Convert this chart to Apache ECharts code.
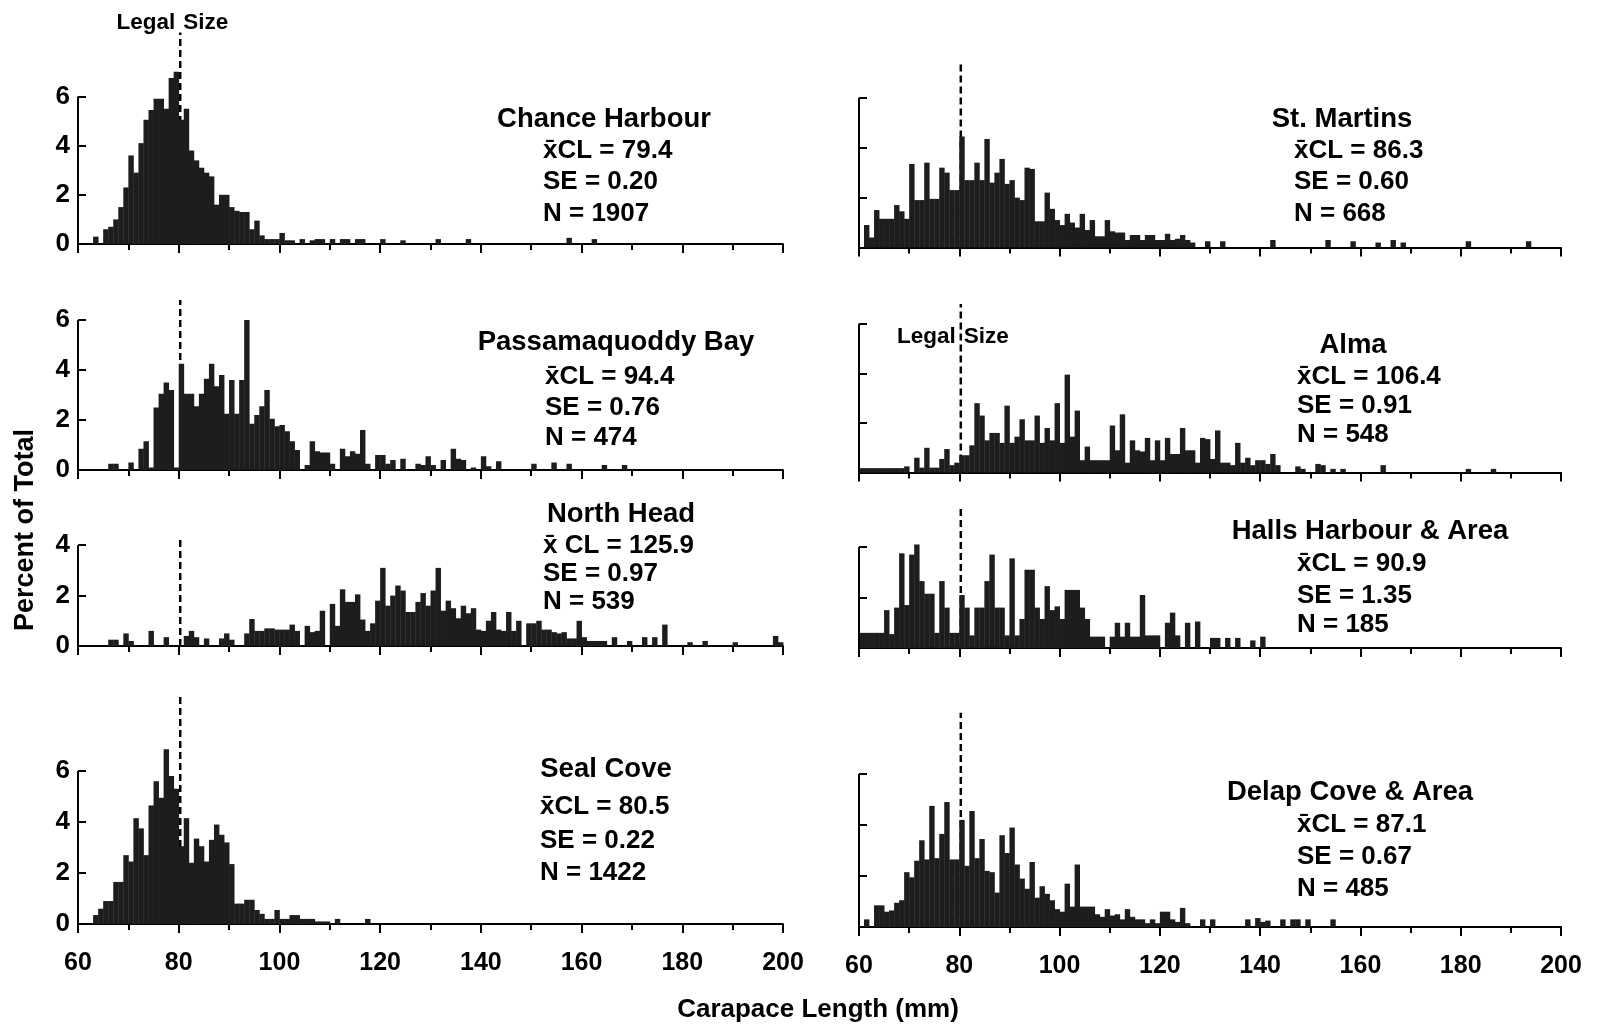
<!DOCTYPE html>
<html>
<head>
<meta charset="utf-8">
<script src="https://cdn.jsdelivr.net/npm/echarts@6/dist/echarts.min.js"></script>
<style>
  html, body { margin: 0; padding: 0; background: #fff; }
  #chart { width: 1597px; height: 1025px; }
</style>
</head>
<body>
<div id="chart"></div>
<script>
// --- data: percent of total per 1 mm carapace-length class ---
const chanceHarbour = [
  [63,0.3],[65,0.6],[66,0.7],[67,1.0],[68,1.5],[69,2.3],[70,3.6],[71,2.9],[72,4.1],[73,5.05],
  [74,5.45],[75,5.9],[76,5.9],[77,5.5],[78,6.75],[79,7.0],[80,5.05],[81,5.5],[82,3.8],[83,3.4],
  [84,3.1],[85,2.9],[86,2.75],[87,1.6],[88,2.0],[89,2.0],[90,1.5],[91,1.35],[92,1.3],[93,1.3],
  [94,0.6],[95,0.95],[96,0.35],[97,0.2],[98,0.2],[99,0.2],[100,0.45],[101,0.15],[102,0.15],
  [104,0.2],[106,0.15],[107,0.2],[108,0.2],[110,0.2],[112,0.2],[113,0.2],[115,0.2],[116,0.2],
  [120,0.2],[124,0.15],[131,0.2],[137,0.2],[157,0.25],[162,0.2]
]
const passamaquoddyBay = [
  [66,0.25],[67,0.25],[70,0.3],[72,0.85],[73,1.15],[74,0.1],[75,2.5],[76,3.05],[77,3.5],[78,3.2],
  [79,0.1],[80,4.25],[81,3.05],[82,3.05],[83,2.55],[84,3.05],[85,3.65],[86,4.25],[87,3.35],[88,3.8],
  [89,2.25],[90,3.6],[91,2.25],[92,3.6],[93,6.0],[94,1.85],[95,2.2],[96,2.55],[97,3.2],[98,2.05],
  [99,1.75],[100,1.8],[101,1.55],[102,1.15],[103,0.8],[105,0.2],[106,1.15],[107,0.75],[108,0.7],
  [109,0.7],[110,0.25],[112,0.85],[113,0.55],[114,0.75],[115,0.65],[116,1.6],[117,0.25],[119,0.6],
  [120,0.6],[121,0.25],[122,0.4],[124,0.45],[127,0.25],[128,0.2],[129,0.55],[130,0.2],[132,0.4],
  [134,0.85],[135,0.45],[136,0.4],[138,0.1],[140,0.55],[141,0.15],[143,0.35],[150,0.25],[154,0.3],
  [157,0.25],[164,0.2],[168,0.2]
]
const northHead = [
  [66,0.25],[67,0.25],[69,0.5],[70,0.2],[74,0.6],[77,0.35],[81,0.4],[82,0.6],[83,0.35],[85,0.3],
  [88,0.3],[89,0.5],[90,0.25],[93,0.5],[94,1.07],[95,0.6],[96,0.6],[97,0.7],[98,0.7],[99,0.65],
  [100,0.65],[101,0.65],[102,0.85],[103,0.6],[105,0.8],[106,0.55],[107,0.6],[108,1.4],[110,1.67],
  [111,0.8],[112,2.25],[113,1.75],[114,1.75],[115,2.05],[116,1.05],[117,0.6],[118,0.9],[119,1.8],
  [120,3.1],[121,1.6],[122,2.0],[123,2.4],[124,2.2],[125,1.35],[126,1.35],[127,1.75],[128,2.1],
  [129,1.6],[130,2.2],[131,3.1],[132,1.4],[133,1.8],[134,1.5],[135,1.1],[136,1.6],[137,1.3],
  [138,1.5],[139,0.65],[140,0.6],[141,1.0],[142,1.35],[143,0.65],[144,0.6],[145,1.35],[146,0.6],
  [147,1.0],[149,0.9],[150,0.9],[151,1.0],[152,0.65],[153,0.65],[154,0.55],[155,0.5],[156,0.55],
  [157,0.3],[158,0.3],[159,1.0],[160,0.35],[161,0.2],[162,0.2],[163,0.2],[164,0.2],[166,0.35],
  [169,0.2],[172,0.35],[174,0.35],[176,0.85],[181,0.15],[184,0.2],[190,0.15],[198,0.4],[199,0.15]
]
const sealCove = [
  [63,0.35],[64,0.6],[65,0.9],[66,0.9],[67,1.65],[68,1.65],[69,2.7],[70,2.45],[71,4.15],[72,3.75],
  [73,2.7],[74,4.65],[75,5.6],[76,4.95],[77,6.85],[78,5.8],[79,5.3],[80,3.05],[81,4.15],[82,2.4],
  [83,3.35],[84,3.05],[85,2.45],[86,3.3],[87,3.9],[88,3.5],[89,3.2],[90,2.35],[91,0.8],[92,0.8],
  [93,0.95],[94,0.95],[95,0.55],[96,0.4],[97,0.2],[98,0.2],[99,0.55],[100,0.2],[101,0.2],
  [102,0.35],[103,0.35],[104,0.2],[105,0.2],[106,0.2],[107,0.1],[108,0.1],[109,0.1],[111,0.2],
  [117,0.2]
]
const stMartins = [
  [61,0.9],[62,0.4],[63,1.5],[64,1.15],[65,1.15],[66,1.15],[67,1.7],[68,1.45],[69,1.15],[70,3.35],
  [71,1.9],[72,1.9],[73,3.4],[74,1.95],[75,1.95],[76,3.2],[77,3.0],[78,2.3],[79,2.3],[80,4.45],
  [81,2.7],[82,2.7],[83,3.4],[84,2.7],[85,4.35],[86,2.6],[87,3.0],[88,3.55],[89,2.55],[90,2.7],
  [91,2.0],[92,1.9],[93,3.2],[94,3.15],[95,1.05],[96,1.05],[97,2.2],[98,1.55],[99,1.1],[100,0.9],
  [101,1.35],[102,1.0],[103,0.8],[104,1.35],[105,0.7],[106,1.1],[107,0.45],[108,0.45],[109,1.1],
  [110,0.65],[111,0.6],[112,0.6],[113,0.3],[114,0.5],[115,0.5],[116,0.3],[117,0.5],[118,0.5],
  [119,0.3],[120,0.3],[121,0.55],[122,0.3],[123,0.35],[124,0.5],[125,0.3],[126,0.2],[129,0.25],
  [132,0.25],[142,0.3],[153,0.3],[158,0.25],[163,0.2],[166,0.3],[168,0.2],[181,0.25],[193,0.25]
]
const alma = [
  [60,0.18],[61,0.18],[62,0.18],[63,0.18],[64,0.18],[65,0.18],[66,0.18],[67,0.18],[68,0.18],
  [69,0.25],[71,0.6],[72,0.2],[73,1.0],[74,0.2],[75,0.2],[76,0.55],[77,0.95],[78,0.3],[79,0.4],
  [80,0.7],[81,0.7],[82,1.1],[83,2.8],[84,2.3],[85,1.3],[86,1.6],[87,1.6],[88,1.2],[89,2.7],
  [90,1.2],[91,1.45],[92,2.15],[93,1.3],[94,1.3],[95,2.3],[96,1.2],[97,1.8],[98,1.3],[99,2.8],
  [100,1.2],[101,3.95],[102,1.45],[103,2.5],[104,0.5],[105,1.05],[106,0.5],[107,0.5],[108,0.5],
  [109,0.5],[110,1.9],[111,0.9],[112,2.35],[113,0.4],[114,1.3],[115,0.9],[116,0.85],[117,1.4],
  [118,0.5],[119,1.3],[120,0.5],[121,1.4],[122,0.75],[123,0.75],[124,1.8],[125,0.9],[126,0.9],
  [127,0.4],[128,1.4],[129,1.35],[130,0.55],[131,1.7],[132,0.4],[133,0.4],[134,0.3],[135,1.2],
  [136,0.4],[137,0.6],[138,0.3],[139,0.5],[140,0.5],[141,0.35],[142,0.75],[143,0.3],[147,0.25],
  [148,0.15],[151,0.35],[152,0.3],[154,0.15],[156,0.15],[164,0.3],[181,0.15],[186,0.15]
]
const hallsHarbour = [
  [60,0.6],[61,0.6],[62,0.6],[63,0.6],[64,0.6],[65,1.5],[66,0.55],[67,1.6],[68,3.75],[69,1.7],
  [70,3.7],[71,4.1],[72,2.65],[73,2.15],[74,2.15],[75,0.6],[76,2.65],[77,1.6],[78,0.6],[79,0.6],
  [80,2.1],[81,1.6],[82,0.5],[83,1.6],[84,1.6],[85,2.65],[86,3.7],[87,1.6],[88,1.6],[89,0.5],
  [90,3.55],[91,0.5],[92,1.15],[93,3.1],[94,3.1],[95,1.6],[96,1.15],[97,2.45],[98,1.5],[99,1.65],
  [100,1.15],[101,2.3],[102,2.3],[103,2.3],[104,1.6],[105,1.15],[106,0.45],[107,0.45],[108,0.45],
  [110,0.45],[111,1.0],[112,0.45],[113,1.0],[114,0.45],[115,0.45],[116,2.1],[117,0.5],[118,0.5],
  [119,0.5],[121,1.0],[122,1.4],[123,0.5],[125,1.0],[127,1.05],[130,0.4],[131,0.4],[133,0.4],
  [135,0.4],[138,0.3],[140,0.45]
]
const delapCove = [
  [61,0.3],[63,0.85],[64,0.85],[65,0.6],[66,0.65],[67,0.95],[68,1.05],[69,2.15],[70,1.95],[71,2.6],
  [72,3.4],[73,2.65],[74,4.75],[75,2.7],[76,3.65],[77,4.9],[78,2.65],[79,2.65],[80,4.2],[81,2.4],
  [82,4.55],[83,2.7],[84,3.45],[85,2.2],[86,2.15],[87,1.35],[88,3.6],[89,2.9],[90,3.9],[91,2.45],
  [92,1.9],[93,1.5],[94,2.55],[95,1.15],[96,1.6],[97,1.3],[98,1.05],[99,0.7],[100,0.6],[101,1.7],
  [102,0.8],[103,2.45],[104,0.8],[105,0.8],[106,0.8],[107,0.5],[108,0.4],[109,0.7],[110,0.45],
  [111,0.5],[112,0.3],[113,0.7],[114,0.4],[115,0.3],[116,0.3],[117,0.15],[118,0.3],[119,0.15],
  [120,0.6],[121,0.6],[122,0.3],[123,0.2],[124,0.75],[125,0.15],[128,0.3],[130,0.3],[137,0.3],
  [139,0.35],[140,0.2],[141,0.25],[144,0.3],[146,0.3],[147,0.3],[149,0.3],[154,0.3]
]

const histograms = [chanceHarbour, passamaquoddyBay, northHead, sealCove,
  stMartins, alma, hallsHarbour, delapCove]
const sites = ['Chance Harbour', 'Passamaquoddy Bay', 'North Head', 'Seal Cove',
  'St. Martins', 'Alma', 'Halls Harbour & Area', 'Delap Cove & Area']
const meanLabel = ['x\u0304CL', 'x\u0304CL', 'x\u0304 CL', 'x\u0304CL', 'x\u0304CL', 'x\u0304CL', 'x\u0304CL', 'x\u0304CL']
const meanCL = ['79.4', '94.4', '125.9', '80.5', '86.3', '106.4', '90.9', '87.1']
const stdErr = ['0.20', '0.76', '0.97', '0.22', '0.60', '0.91', '1.35', '0.67']
const sampleN = ['1907', '474', '539', '1422', '668', '548', '185', '485']
const yTicks6 = [0, 2, 4, 6]
const yTicks4 = [0, 2, 4]
const xTickLabels = [60, 80, 100, 120, 140, 160, 180, 200]
const legalSize = 80.3

// --- layout ---
const FONT = '"Liberation Sans", Arial, sans-serif'
// left px, width, zero line px, px per percent, axis max (top of dashed line), y ticks, y labels, x labels
const panels = [
  { left: 78, width: 705, zero: 244, unit: 24.6, max: 8.6, ticks: yTicks6, yLab: true, xLab: false },
  { left: 78, width: 705, zero: 470, unit: 25, max: 6.8, ticks: yTicks6, yLab: true, xLab: false },
  { left: 78, width: 705, zero: 646, unit: 25.2, max: 4.35, ticks: yTicks4, yLab: true, xLab: false },
  { left: 78, width: 705, zero: 924, unit: 25.5, max: 9.05, ticks: yTicks6, yLab: true, xLab: true },
  { left: 859, width: 702, zero: 247.5, unit: 24.95, max: 7.4, ticks: yTicks6, yLab: false, xLab: false },
  { left: 859, width: 702, zero: 472.6, unit: 24.8, max: 6.8, ticks: yTicks6, yLab: false, xLab: false },
  { left: 859, width: 702, zero: 648, unit: 25.25, max: 5.65, ticks: yTicks4, yLab: false, xLab: false },
  { left: 859, width: 702, zero: 927, unit: 25.5, max: 8.4, ticks: yTicks6, yLab: false, xLab: true }
]
// title x, title y, stats x, stats y (3 lines)
const textPos = [
  [604, 119, 543, [151, 182, 214]],
  [616, 342, 545, [377, 408, 438]],
  [621, 514, 543, [546, 574, 602]],
  [606, 769, 540, [807, 841, 873]],
  [1342, 119, 1294, [151, 182, 214]],
  [1353, 345, 1297, [377, 406, 435]],
  [1370, 531, 1297, [564, 596, 625]],
  [1350, 792, 1297, [825, 857, 889]]
]

const chart = echarts.init(document.getElementById('chart'))

const grid = [], xAxis = [], yAxis = [], series = []

panels.forEach((p, i) => {
  const h = p.max * p.unit
  grid.push({ left: p.left, width: p.width, top: p.zero - h, height: h })

  xAxis.push({
    type: 'value', gridIndex: i, min: 60, max: 200, interval: 20,
    axisLine: { lineStyle: { color: '#000', width: 2 } },
    axisTick: { length: 9, lineStyle: { color: '#000', width: 2 } },
    minorTick: { show: true, splitNumber: 2, length: 6, lineStyle: { color: '#000', width: 2 } },
    splitLine: { show: false },
    axisLabel: {
      show: p.xLab, customValues: xTickLabels, margin: 27,
      color: '#000', fontSize: 25, fontFamily: FONT, fontWeight: 'bold'
    }
  })

  yAxis.push({
    type: 'value', gridIndex: i, min: 0, max: p.max,
    axisLine: { show: false },
    splitLine: { show: false },
    axisTick: { show: true, inside: true, length: 8, customValues: p.ticks, lineStyle: { color: '#000', width: 2 } },
    axisLabel: {
      show: p.yLab, customValues: p.ticks, margin: 8,
      color: '#000', fontSize: 26, fontFamily: FONT, fontWeight: 'bold'
    }
  })

  // histogram bars, each class spans [mm, mm + 1]
  series.push({
    type: 'custom', xAxisIndex: i, yAxisIndex: i, z: 3, silent: true,
    data: histograms[i],
    renderItem(params, api) {
      const x = api.value(0)
      const v = api.value(1)
      const a = api.coord([x, v])
      const b = api.coord([x + 1, 0])
      return {
        type: 'rect',
        shape: { x: a[0], y: a[1], width: b[0] - a[0] + 0.4, height: b[1] - a[1] },
        style: { fill: '#1d1d1d' }
      }
    }
  })

  // y axis line, only up to the top tick
  const top = p.ticks[p.ticks.length - 1]
  series.push({
    type: 'line', xAxisIndex: i, yAxisIndex: i, z: 4, silent: true, clip: false,
    symbol: 'none', data: [[60, 0], [60, top]],
    lineStyle: { color: '#000', width: 2 }
  })

  // legal size
  series.push({
    type: 'line', xAxisIndex: i, yAxisIndex: i, z: 1, silent: true,
    symbol: 'none', data: [[legalSize, 0], [legalSize, p.max]],
    lineStyle: { color: '#000', width: 2.5, type: [7, 4] }
  })
})

chart.setOption({
  backgroundColor: '#fff',
  animation: false,
  grid, xAxis, yAxis, series
})

// --- text ---
const graphic = []
const txt = (x, y, text, align, size) => ({
  type: 'text', x, y, silent: true,
  style: {
    text, fill: '#000', textAlign: align, textVerticalAlign: 'middle',
    font: 'bold ' + (size || 26) + 'px ' + FONT
  }
})

textPos.forEach((t, i) => {
  graphic.push(txt(t[0], t[1], sites[i], 'center', 27.5))
  graphic.push(txt(t[2], t[3][0], meanLabel[i] + ' = ' + meanCL[i], 'left'))
  graphic.push(txt(t[2], t[3][1], 'SE = ' + stdErr[i], 'left'))
  graphic.push(txt(t[2], t[3][2], 'N = ' + sampleN[i], 'left'))
})

// "Legal Size" split around the dashed line
const legalLabels = [[0, 23], [5, 337]]
legalLabels.forEach(([gi, y]) => {
  const px = chart.convertToPixel({ xAxisIndex: gi }, legalSize)
  graphic.push(txt(px - 5, y, 'Legal', 'right', 22.5))
  graphic.push(txt(px + 3, y, 'Size', 'left', 22.5))
})

graphic.push({
  type: 'text', x: 26, y: 530, rotation: Math.PI / 2, silent: true,
  style: { text: 'Percent of Total', fill: '#000', textAlign: 'center', textVerticalAlign: 'middle', font: 'bold 27px ' + FONT }
})
graphic.push(txt(818, 1010, 'Carapace Length (mm)', 'center', 26))

chart.setOption({ graphic })
</script>
</body>
</html>
